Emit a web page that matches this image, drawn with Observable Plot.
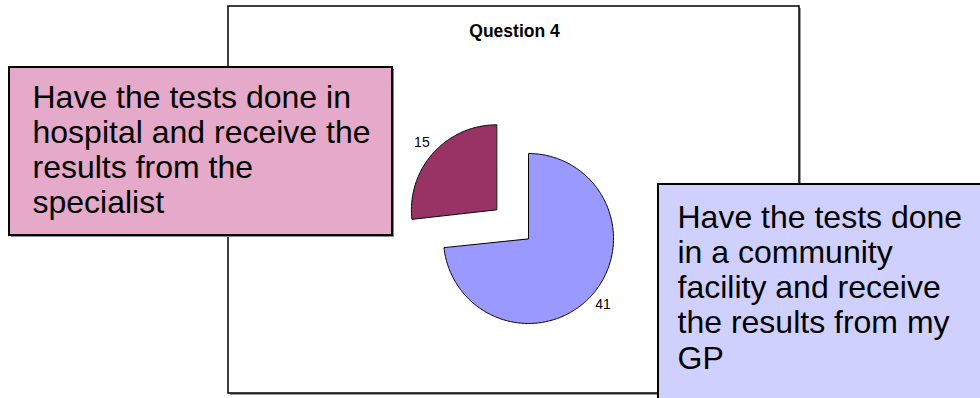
<!DOCTYPE html>
<html><head><meta charset="utf-8">
<script src="https://cdn.jsdelivr.net/npm/d3@7"></script>
<script src="https://cdn.jsdelivr.net/npm/@observablehq/plot@0.6"></script>
<style>html,body{margin:0;padding:0;background:#fff;overflow:hidden;width:980px;height:398px}#chart svg{display:block}</style>
</head><body><div id="chart"></div>
<script>
// ---- data ----
const title = "Question 4";
const categories = [
  "Have the tests done in a community facility and receive the results from my GP",
  "Have the tests done in hospital and receive the results from the specialist"
];
const values = [41, 15];
const sliceColors = ["#9999FF", "#993366"];
const exploded = [false, true];
const boxLabels = [
  "Have the tests done\nin a community\nfacility and receive\nthe results from my\nGP",
  "Have the tests done in\nhospital and receive the\nresults from the\nspecialist"
];
const boxColors = ["#D0D0FF", "#E5A9C9"];

// ---- layout ----
const W = 980, H = 398;
const font = "'Liberation Sans', Arial, Helvetica, sans-serif";
const cx = 528, cy = 238, r = 85, explode = 43, labelR = 100;
const frame = [{x1: 228, x2: 799, y1: 6, y2: 393}];
const boxes = [
  {x1: 658, x2: 995, y1: 184, y2: 415, tx: 677, ty: 203, fill: boxColors[0], text: boxLabels[0]},
  {x1: 9, x2: 392, y1: 67, y2: 235, tx: 32, ty: 83, fill: boxColors[1], text: boxLabels[1]}
];

const pie = d3.pie().sort(null)(values);
const polys = [];
const labels = [];
pie.forEach((s, i) => {
  const mid = (s.startAngle + s.endAngle) / 2;
  const ox = exploded[i] ? explode * Math.sin(mid) : 0;
  const oy = exploded[i] ? -explode * Math.cos(mid) : 0;
  const x0 = cx + ox, y0 = cy + oy;
  polys.push({slice: i, x: x0, y: y0, color: sliceColors[i]});
  const n = Math.max(8, Math.ceil((s.endAngle - s.startAngle) * 60));
  for (let k = 0; k <= n; k++) {
    const a = s.startAngle + (s.endAngle - s.startAngle) * k / n;
    polys.push({slice: i, x: x0 + r * Math.sin(a), y: y0 - r * Math.cos(a), color: sliceColors[i]});
  }
  labels.push({x: x0 + labelR * Math.sin(mid), y: y0 - labelR * Math.cos(mid) - 1, text: String(values[i])});
});

const chart = Plot.plot({
  width: W, height: H,
  margin: 0, marginTop: 0, marginRight: 0, marginBottom: 0, marginLeft: 0,
  x: {type: "linear", domain: [0, W], range: [0, W], axis: null},
  y: {type: "linear", domain: [0, H], range: [0, H], axis: null},
  color: {type: "identity"},
  style: {fontFamily: font, background: "#fff", overflow: "hidden"},
  marks: [
    Plot.rect(frame, {x1: d => d.x1 + 2, x2: d => d.x2 + 2, y1: d => d.y1 + 2, y2: d => d.y2 + 2, fill: "#9a9a9a"}),
    Plot.rect(frame, {x1: "x1", x2: "x2", y1: "y1", y2: "y2", fill: "#fff", stroke: "#000", strokeWidth: 1.5}),
    Plot.text([title], {x: 514, y: 31, text: d => d, fontSize: 17.5, fontWeight: "bold", fill: "#000", textAnchor: "middle"}),
    Plot.line(polys, {x: "x", y: "y", z: "slice", fill: "color", stroke: "#000", strokeWidth: 1, curve: "linear-closed"}),
    Plot.text(labels, {x: "x", y: "y", text: "text", fontSize: 14, fill: "#000", textAnchor: "middle"}),
    Plot.rect(boxes, {x1: d => d.x1 + 2, x2: d => d.x2 + 2, y1: d => d.y1 + 2, y2: d => d.y2 + 2, fill: "#8a8a8a"}),
    Plot.rect(boxes, {x1: "x1", x2: "x2", y1: "y1", y2: "y2", fill: "fill", stroke: "#000", strokeWidth: 2}),
    Plot.text(boxes, {x: "tx", y: "ty", text: "text", fontSize: 32, lineHeight: 1.095, lineAnchor: "top", textAnchor: "start", fill: "#000"})
  ]
});
document.getElementById("chart").appendChild(chart);
</script>
</body></html>
